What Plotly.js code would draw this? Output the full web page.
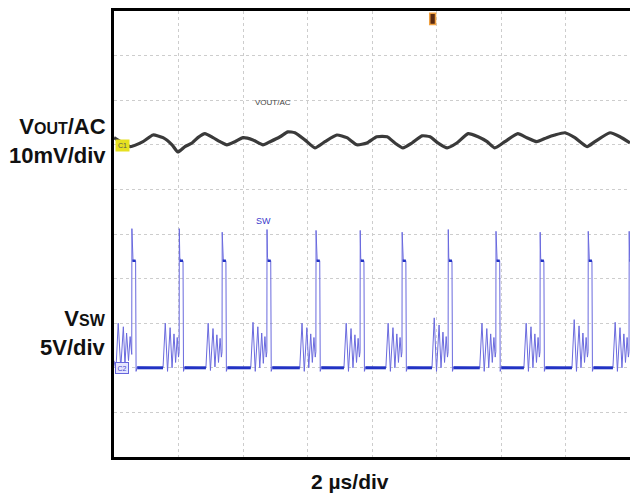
<!DOCTYPE html>
<html>
<head>
<meta charset="utf-8">
<script src="https://cdn.plot.ly/plotly-3.0.1.min.js"></script>
<style>html,body{margin:0;padding:0;background:#fff;}#chart{width:630px;height:495px;}</style>
</head>
<body>
<div id="chart"></div>
<script>
// ---- VOUT/AC ripple (time in µs, value in mV) ----
const vout_t = [0.00,0.50,0.90,1.21,1.52,1.80,1.98,2.20,2.42,2.60,2.82,3.07,3.29,3.50,3.75,4.00,4.31,4.62,4.84,5.15,5.39,5.61,5.92,6.23,6.54,6.91,7.22,7.53,7.84,8.15,8.47,8.71,8.96,9.24,9.55,9.80,10.05,10.33,10.63,10.98,11.29,11.57,11.81,12.12,12.52,12.80,13.11,13.42,13.67,13.98,14.29,14.67,14.91,15.38,15.69,16.00];
const vout_mV = [1.6,-0.4,0.7,2.2,1.6,0.0,-1.6,-0.4,0.4,1.6,2.5,1.6,0.7,0.0,0.7,1.6,1.1,0.0,0.7,1.8,2.9,2.7,1.1,-0.7,0.7,2.2,1.6,0.0,0.4,1.8,1.8,0.4,-0.7,0.4,2.0,1.8,0.4,-0.7,0.4,2.5,1.8,0.7,-0.7,0.7,2.5,1.6,0.7,1.6,2.2,2.7,1.6,-0.4,0.7,2.7,1.8,0.4];

// ---- SW node (time in µs, value in V) ----
const sw_t = [
 0.00,0.06,0.13,0.21,0.29,0.34,0.39,0.45,0.50,0.55,
 0.555,0.57,0.59,0.67,0.685,0.72,1.52,1.59,1.66,1.74,1.80,1.86,1.91,1.96,2.00,2.02,
 2.025,2.04,2.06,2.14,2.155,2.19,2.85,2.92,2.99,3.07,3.13,3.19,3.24,3.29,3.33,3.35,
 3.355,3.37,3.39,3.47,3.485,3.52,4.24,4.31,4.38,4.46,4.52,4.58,4.63,4.68,4.72,4.74,
 4.745,4.76,4.78,4.86,4.875,4.91,5.76,5.83,5.90,5.98,6.04,6.10,6.15,6.20,6.24,6.26,
 6.265,6.28,6.30,6.38,6.395,6.43,7.13,7.20,7.27,7.35,7.41,7.47,7.52,7.57,7.61,7.63,
 7.635,7.65,7.67,7.75,7.765,7.80,8.43,8.50,8.57,8.65,8.71,8.77,8.82,8.87,8.91,8.93,
 8.935,8.95,8.97,9.05,9.065,9.10,9.86,9.93,10.00,10.08,10.14,10.20,10.25,10.30,10.34,10.36,
 10.365,10.38,10.40,10.48,10.495,10.53,11.34,11.41,11.48,11.56,11.62,11.68,11.73,11.78,11.82,11.84,
 11.845,11.86,11.88,11.96,11.975,12.01,12.71,12.78,12.85,12.93,12.99,13.05,13.10,13.15,13.19,13.21,
 13.215,13.23,13.25,13.33,13.345,13.38,14.20,14.27,14.34,14.42,14.48,14.54,14.59,14.64,14.68,14.70,
 14.705,14.72,14.74,14.82,14.835,14.87,15.47,15.54,15.61,15.69,15.75,15.81,15.86,15.91,15.95,15.97,
 15.975,15.99,16.00];
const sw_V = [
 0.8,-0.3,5.0,0.0,4.6,0.3,3.9,0.8,3.5,1.5,
 15.6,12.4,12.0,12.0,-0.4,0.1,0.0,5.0,-0.4,4.5,0.0,3.8,0.6,3.4,1.2,1.8,
 15.6,12.4,12.0,12.0,-0.4,0.1,0.0,5.0,-0.3,4.4,0.1,3.7,0.6,3.3,1.2,1.8,
 15.2,12.3,12.0,12.0,-0.4,0.1,0.0,5.1,-0.4,4.6,0.0,3.9,0.5,3.5,1.2,1.8,
 15.5,12.4,12.0,12.0,-0.4,0.1,0.0,5.0,-0.4,4.5,0.0,3.8,0.6,3.4,1.2,1.8,
 15.4,12.4,12.0,12.0,-0.4,0.1,0.0,5.0,-0.4,4.4,0.0,3.7,0.6,3.3,1.2,1.8,
 15.4,12.3,12.0,12.0,-0.4,0.1,0.0,5.0,-0.4,4.5,0.0,3.8,0.6,3.4,1.2,1.8,
 15.2,12.3,12.0,12.0,-0.4,0.1,0.0,5.6,-0.4,4.8,0.0,4.0,0.6,3.5,1.2,1.8,
 15.5,12.4,12.0,12.0,-0.4,0.1,0.0,5.0,-0.4,4.4,0.0,3.8,0.6,3.4,1.2,1.8,
 15.3,12.3,12.0,12.0,-0.4,0.1,0.0,5.0,-0.4,4.6,0.0,3.8,0.6,3.4,1.2,1.8,
 15.2,12.3,12.0,12.0,-0.4,0.1,0.0,5.4,-0.4,4.7,0.0,3.9,0.6,3.4,1.2,1.8,
 15.3,12.3,12.0,12.0,-0.4,0.1,0.0,5.1,-0.4,4.5,0.0,3.8,0.6,3.4,1.2,1.8,
 15.3,12.3,12.0];

// dwell (dense, bright) segments of the SW trace
const swLowStart  = [0.72,2.19,3.52,4.91,6.43,7.80,9.10,10.53,12.01,13.38,14.87];
const swLowEnd    = [1.52,2.85,4.24,5.76,7.13,8.43,9.86,11.34,12.71,14.20,15.47];
const swLowLevel  = 0.0;
const swHighStart = [0.57,2.04,3.37,4.76,6.28,7.65,8.95,10.38,11.86,13.23,14.72,15.99];
const swHighEnd   = [0.67,2.14,3.47,4.86,6.38,7.75,9.05,10.48,11.96,13.33,14.82,16.00];
const swHighLevel = 12.0;

const trigTime = 9.88; // µs

function segs(starts, ends, level){
  const x=[], y=[];
  starts.forEach((s,i)=>{ x.push(s, ends[i], null); y.push(level, level, null); });
  return {x, y};
}
const low = segs(swLowStart, swLowEnd, swLowLevel);
const high = segs(swHighStart, swHighEnd, swHighLevel);

const traces = [
  {x: vout_t, y: vout_mV, type:'scatter', mode:'lines', yaxis:'y',
   line:{color:'#3a3a3a', width:3.2, shape:'spline', smoothing:0.5}, hoverinfo:'skip'},
  {x: sw_t, y: sw_V, type:'scatter', mode:'lines', yaxis:'y2',
   line:{color:'#6a6ade', width:1}, hoverinfo:'skip'},
  {x: low.x, y: low.y, type:'scatter', mode:'lines', yaxis:'y2', connectgaps:false,
   line:{color:'#2233c4', width:3}, hoverinfo:'skip'},
  {x: high.x, y: high.y, type:'scatter', mode:'lines', yaxis:'y2', connectgaps:false,
   line:{color:'#2233c4', width:2.5}, hoverinfo:'skip'}
];

const F = '"Liberation Sans", Arial, sans-serif';
const layout = {
  width:630, height:495,
  margin:{l:114, r:0, t:11, b:38},
  paper_bgcolor:'#fff', plot_bgcolor:'#fff',
  showlegend:false,
  xaxis:{range:[0,16], dtick:2, tick0:0, showticklabels:false, ticks:'',
         showgrid:true, gridcolor:'#cdcdcd', griddash:'dot', gridwidth:1,
         zeroline:false, showline:true, mirror:true, linecolor:'#000', linewidth:3},
  yaxis:{range:[-70,30], dtick:10, tick0:0, showticklabels:false, ticks:'',
         showgrid:true, gridcolor:'#cdcdcd', griddash:'dot', gridwidth:1,
         zeroline:false, showline:true, mirror:false, linecolor:'#000', linewidth:3},
  yaxis2:{range:[-10,40], overlaying:'y', showticklabels:false, ticks:'',
          showgrid:false, zeroline:false, showline:false},
  annotations:[
    {xref:'paper', yref:'paper', x:-0.012, y:0.708, xanchor:'right', yanchor:'middle', align:'right',
     text:'V<span style="font-size:16px">OUT</span>/AC<br>10mV/div', showarrow:false,
     font:{family:F, size:22, color:'#111', weight:'bold'}},
    {xref:'paper', yref:'paper', x:-0.012, y:0.278, xanchor:'right', yanchor:'middle', align:'right',
     text:'V<span style="font-size:16px">SW</span><br>5V/div', showarrow:false,
     font:{family:F, size:22, color:'#111', weight:'bold'}},
    {xref:'paper', yref:'paper', x:0.457, y:-0.055, xanchor:'center', yanchor:'middle',
     text:'2 µs/div', showarrow:false, font:{family:F, size:21, color:'#111', weight:'bold'}},
    {xref:'x', yref:'y', x:4.93, y:9.4, text:'VOUT/AC', showarrow:false,
     font:{family:F, size:8, color:'#444'}},
    {xref:'x', yref:'y2', x:4.65, y:16.5, text:'SW', showarrow:false,
     font:{family:F, size:9, color:'#3a3acc'}},
    {xref:'paper', yref:'y', x:0.002, y:-0.2, xanchor:'left', yanchor:'middle', text:'C1', showarrow:false,
     font:{family:F, size:7, color:'#555'}, bgcolor:'#e6e020', borderpad:1, width:11, height:9},
    {xref:'paper', yref:'y2', x:0.002, y:0, xanchor:'left', yanchor:'middle', text:'C2', showarrow:false,
     font:{family:F, size:7, color:'#4444cc'}, bgcolor:'#e4e4ff', bordercolor:'#6666dd', borderwidth:1, borderpad:1, width:10, height:8}
  ],
  shapes:[
    {type:'rect', xref:'x', yref:'paper', x0:trigTime-0.09, x1:trigTime+0.09, y0:0.97, y1:0.995,
     fillcolor:'#5a2a10', line:{color:'#f0a040', width:1.5}}
  ]
};
Plotly.newPlot('chart', traces, layout, {staticPlot:true, displayModeBar:false});
</script>
</body>
</html>
